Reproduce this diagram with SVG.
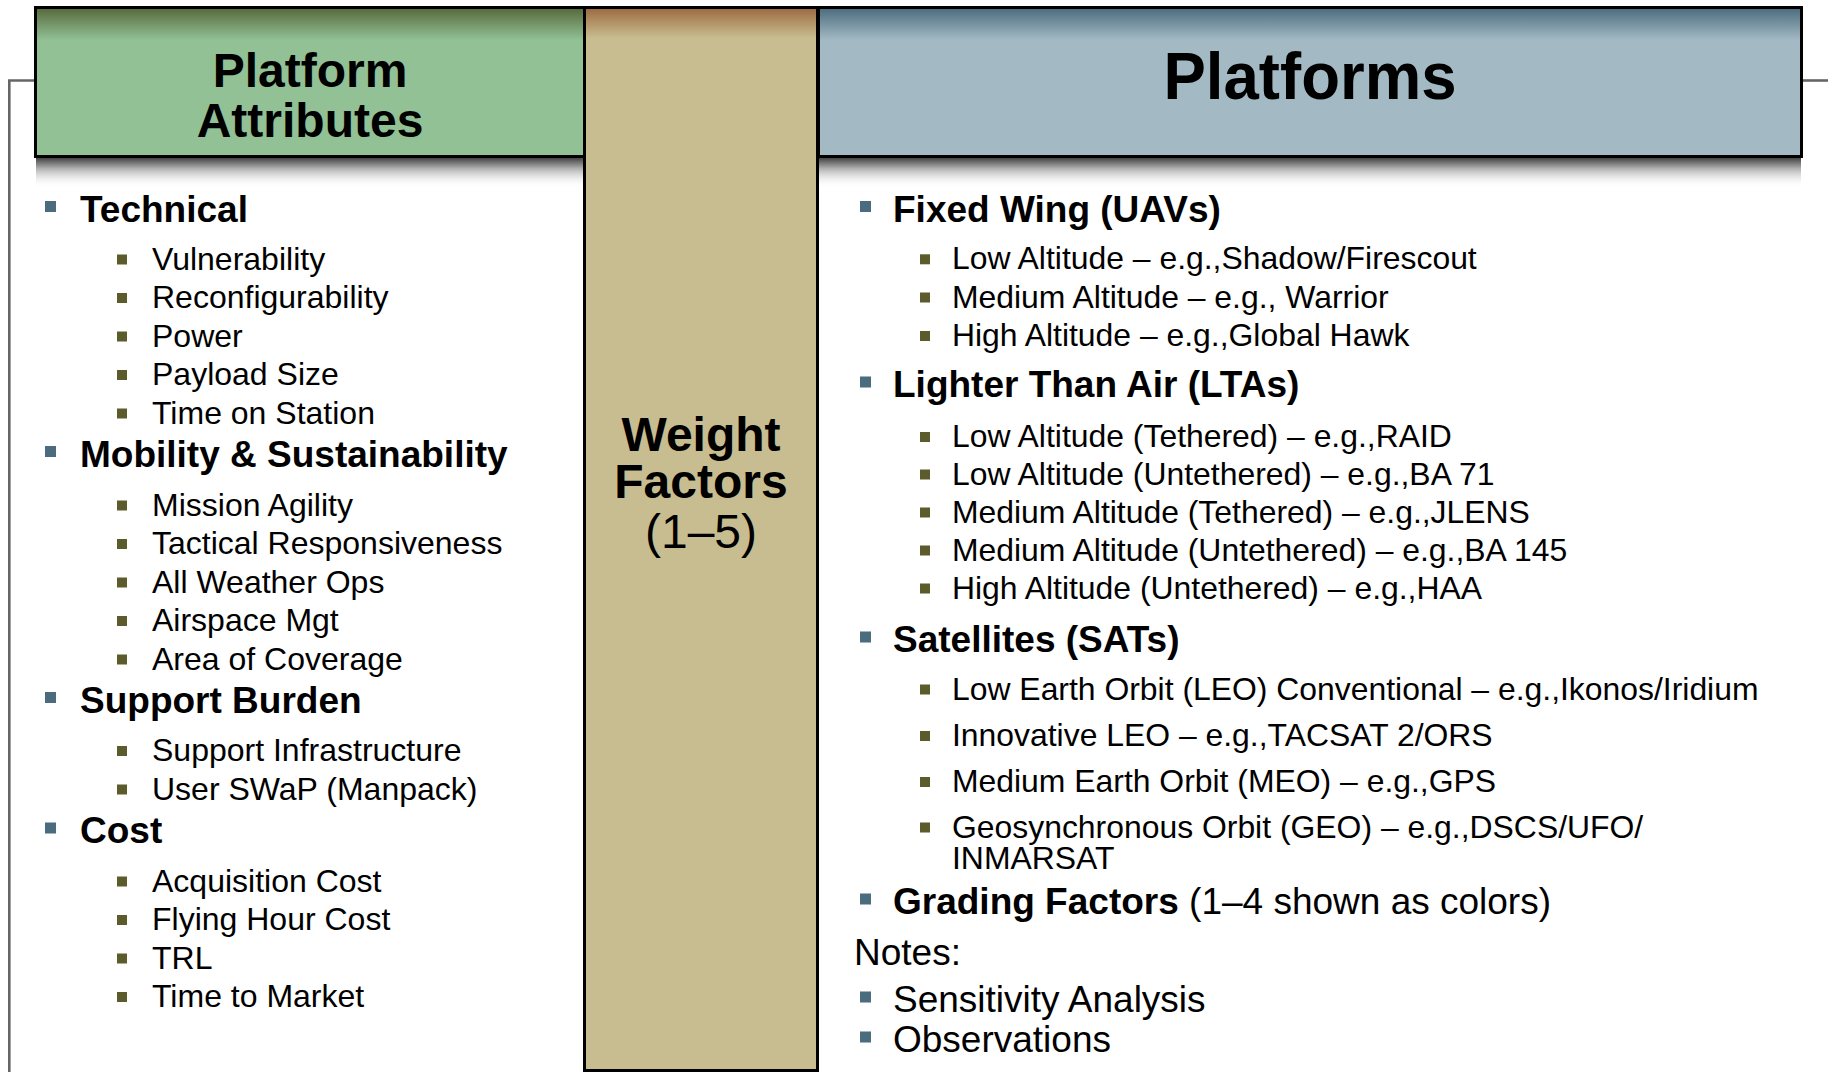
<svg xmlns="http://www.w3.org/2000/svg" width="1828" height="1072" viewBox="0 0 1828 1072">
  <defs>
    <linearGradient id="gGreen" x1="0" y1="0" x2="0" y2="1">
      <stop offset="0" stop-color="#56683a"/>
      <stop offset="0.22" stop-color="#92c196"/>
      <stop offset="1" stop-color="#92c196"/>
    </linearGradient>
    <linearGradient id="gBlue" x1="0" y1="0" x2="0" y2="1">
      <stop offset="0" stop-color="#4a6b7d"/>
      <stop offset="0.22" stop-color="#a3bac4"/>
      <stop offset="1" stop-color="#a3bac4"/>
    </linearGradient>
    <linearGradient id="gTan" x1="0" y1="0" x2="0" y2="30" gradientUnits="userSpaceOnUse" gradientTransform="translate(0,8)">
      <stop offset="0" stop-color="#9c6a40"/>
      <stop offset="1" stop-color="#c8bd90"/>
    </linearGradient>
    <linearGradient id="gShadow" x1="0" y1="0" x2="0" y2="1">
      <stop offset="0" stop-color="#444444"/>
      <stop offset="0.35" stop-color="#b0b0b0"/>
      <stop offset="1" stop-color="#ffffff" stop-opacity="0"/>
    </linearGradient>
  </defs>
  <style>
    text { font-family: "Liberation Sans", Arial, sans-serif; fill: #000000; }
    .hdr { font-size: 48px; font-weight: bold; text-anchor: middle; }
    .l1 { font-size: 37px; font-weight: bold; }
    .l2 { font-size: 32px; }
    .r2 { font-size: 31.9px; }
    .reg36 { font-size: 37px; }
    .b1 { fill: #4b6b7f; }
    .b2 { fill: #5c5b2c; }
    .box { stroke: #000000; stroke-width: 3; }
    .frame { fill: none; stroke: #666666; stroke-width: 2.6; }
  </style>

  <g id="frame">
    <path class="frame" d="M34 80.5 H9.3 V1072"/>
    <path class="frame" d="M1803 80.5 H1828"/>
  </g>

  <g id="shadows">
    <rect x="36" y="158" width="548" height="30" fill="url(#gShadow)"/>
    <rect x="818" y="158" width="983" height="30" fill="url(#gShadow)"/>
  </g>

  <g id="platform-attributes-header">
    <rect class="box" x="35.5" y="7.5" width="549" height="149" fill="url(#gGreen)"/>
    <text class="hdr" x="310" y="87">Platform</text>
    <text class="hdr" x="310" y="137">Attributes</text>
  </g>

  <g id="platforms-header">
    <rect class="box" x="818.5" y="7.5" width="983" height="149" fill="url(#gBlue)"/>
    <text class="hdr" x="1310" y="99" style="font-size:66px" textLength="293" lengthAdjust="spacingAndGlyphs">Platforms</text>
  </g>

  <g id="weight-factors">
    <rect class="box" x="584.5" y="7.5" width="233" height="1063" fill="#c8bd90"/>
    <rect x="586" y="9" width="230" height="32" fill="url(#gTan)"/>
    <text class="hdr" x="701" y="451">Weight</text>
    <text class="hdr" x="701" y="498">Factors</text>
    <text class="hdr" x="701" y="548" style="font-weight:normal">(1–5)</text>
  </g>

  <g id="attributes-list">
    <rect class="b1" x="45" y="201" width="11" height="11"/>
    <text class="l1" x="80" y="221.5">Technical</text>
    <rect class="b2" x="117" y="254.5" width="10" height="10"/>
    <text class="l2" x="152" y="269.5">Vulnerability</text>
    <rect class="b2" x="117" y="293" width="10" height="10"/>
    <text class="l2" x="152" y="308">Reconfigurability</text>
    <rect class="b2" x="117" y="331.5" width="10" height="10"/>
    <text class="l2" x="152" y="346.5">Power</text>
    <rect class="b2" x="117" y="370" width="10" height="10"/>
    <text class="l2" x="152" y="385">Payload Size</text>
    <rect class="b2" x="117" y="408.5" width="10" height="10"/>
    <text class="l2" x="152" y="423.5">Time on Station</text>

    <rect class="b1" x="45" y="446" width="11" height="11"/>
    <text class="l1" x="80" y="466.5">Mobility &amp; Sustainability</text>
    <rect class="b2" x="117" y="500.5" width="10" height="10"/>
    <text class="l2" x="152" y="515.5">Mission Agility</text>
    <rect class="b2" x="117" y="539" width="10" height="10"/>
    <text class="l2" x="152" y="554">Tactical Responsiveness</text>
    <rect class="b2" x="117" y="577.5" width="10" height="10"/>
    <text class="l2" x="152" y="592.5">All Weather Ops</text>
    <rect class="b2" x="117" y="616" width="10" height="10"/>
    <text class="l2" x="152" y="631">Airspace Mgt</text>
    <rect class="b2" x="117" y="654.5" width="10" height="10"/>
    <text class="l2" x="152" y="669.5">Area of Coverage</text>

    <rect class="b1" x="45" y="692" width="11" height="11"/>
    <text class="l1" x="80" y="712.5">Support Burden</text>
    <rect class="b2" x="117" y="746" width="10" height="10"/>
    <text class="l2" x="152" y="761">Support Infrastructure</text>
    <rect class="b2" x="117" y="784.5" width="10" height="10"/>
    <text class="l2" x="152" y="799.5">User SWaP (Manpack)</text>

    <rect class="b1" x="45" y="822.5" width="11" height="11"/>
    <text class="l1" x="80" y="843">Cost</text>
    <rect class="b2" x="117" y="876.5" width="10" height="10"/>
    <text class="l2" x="152" y="891.5">Acquisition Cost</text>
    <rect class="b2" x="117" y="915" width="10" height="10"/>
    <text class="l2" x="152" y="930">Flying Hour Cost</text>
    <rect class="b2" x="117" y="953.5" width="10" height="10"/>
    <text class="l2" x="152" y="968.5">TRL</text>
    <rect class="b2" x="117" y="992" width="10" height="10"/>
    <text class="l2" x="152" y="1007">Time to Market</text>
  </g>

  <g id="platforms-list">
    <rect class="b1" x="860" y="201" width="11" height="11"/>
    <text class="l1" x="893" y="221.7">Fixed Wing (UAVs)</text>
    <rect class="b2" x="920" y="254.3" width="10" height="10"/>
    <text class="r2" x="952" y="269.3">Low Altitude – e.g.,Shadow/Firescout</text>
    <rect class="b2" x="920" y="292.5" width="10" height="10"/>
    <text class="r2" x="952" y="307.5">Medium Altitude – e.g., Warrior</text>
    <rect class="b2" x="920" y="331" width="10" height="10"/>
    <text class="r2" x="952" y="346">High Altitude – e.g.,Global Hawk</text>

    <rect class="b1" x="860" y="376.5" width="11" height="11"/>
    <text class="l1" x="893" y="397">Lighter Than Air (LTAs)</text>
    <rect class="b2" x="920" y="432" width="10" height="10"/>
    <text class="r2" x="952" y="447">Low Altitude (Tethered) – e.g.,RAID</text>
    <rect class="b2" x="920" y="469.5" width="10" height="10"/>
    <text class="r2" x="952" y="484.5">Low Altitude (Untethered) – e.g.,BA 71</text>
    <rect class="b2" x="920" y="507.5" width="10" height="10"/>
    <text class="r2" x="952" y="522.5">Medium Altitude (Tethered) – e.g.,JLENS</text>
    <rect class="b2" x="920" y="545.5" width="10" height="10"/>
    <text class="r2" x="952" y="560.5">Medium Altitude (Untethered) – e.g.,BA 145</text>
    <rect class="b2" x="920" y="583.5" width="10" height="10"/>
    <text class="r2" x="952" y="598.5">High Altitude (Untethered) – e.g.,HAA</text>

    <rect class="b1" x="860" y="631.5" width="11" height="11"/>
    <text class="l1" x="893" y="652">Satellites (SATs)</text>
    <rect class="b2" x="920" y="684.5" width="10" height="10"/>
    <text class="r2" x="952" y="699.5">Low Earth Orbit (LEO) Conventional – e.g.,Ikonos/Iridium</text>
    <rect class="b2" x="920" y="731" width="10" height="10"/>
    <text class="r2" x="952" y="746">Innovative LEO – e.g.,TACSAT 2/ORS</text>
    <rect class="b2" x="920" y="777" width="10" height="10"/>
    <text class="r2" x="952" y="792">Medium Earth Orbit (MEO) – e.g.,GPS</text>
    <rect class="b2" x="920" y="822.5" width="10" height="10"/>
    <text class="r2" x="952" y="837.5">Geosynchronous Orbit (GEO) – e.g.,DSCS/UFO/</text>
    <text class="r2" x="952" y="868.5">INMARSAT</text>

    <rect class="b1" x="860" y="893.5" width="11" height="11"/>
    <text class="reg36" x="893" y="914"><tspan font-weight="bold">Grading Factors</tspan> (1–4 shown as colors)</text>
  </g>

  <g id="notes">
    <text class="reg36" x="854" y="965">Notes:</text>
    <rect class="b1" x="860" y="991.5" width="11" height="11"/>
    <text class="reg36" x="893" y="1012">Sensitivity Analysis</text>
    <rect class="b1" x="860" y="1031.5" width="11" height="11"/>
    <text class="reg36" x="893" y="1052">Observations</text>
  </g>
</svg>
